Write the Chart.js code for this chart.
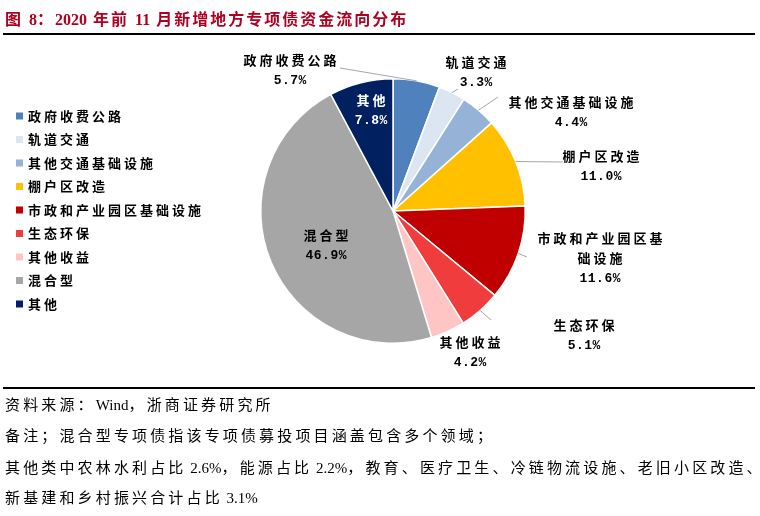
<!DOCTYPE html>
<html>
<head>
<meta charset="utf-8">
<script src="https://cdn.jsdelivr.net/npm/chart.js@4"></script>
<style>
html, body { margin: 0; padding: 0; background: #fff; }
#wrap { position: relative; width: 760px; height: 516px; overflow: hidden; }
#pie { position: absolute; left: 0; top: 0; }
.title { position: absolute; left: 5px; top: 6px; font: bold 16px "Liberation Serif", "Noto Sans CJK SC"; color: #b00020; letter-spacing: 2px; white-space: nowrap; }
.rule { position: absolute; left: 3px; width: 752px; height: 1.5px; background: #000; }
.note { position: absolute; left: 5px; font: 15px "Liberation Serif", "Noto Sans CJK SC"; letter-spacing: 3.15px; white-space: nowrap; color: #000; }
.lat { letter-spacing: 0; }
</style>
</head>
<body>
<div id="wrap">
  <canvas id="pie" width="760" height="516"></canvas>
  <div class="title">图 <span class="lat">8</span>：<span class="lat">2020</span> 年前 <span class="lat">11</span> 月新增地方专项债资金流向分布</div>
  <div class="rule" style="top:33px"></div>
  <div class="rule" style="top:387px"></div>
  <div class="note" style="top:393px">资料来源：<span class="lat">Wind</span>，浙商证券研究所</div>
  <div class="note" style="top:424px">备注；混合型专项债指该专项债募投项目涵盖包含多个领域；</div>
  <div class="note" style="top:456px">其他类中农林水利占比<span class="lat"> 2.6%</span>，能源占比<span class="lat"> 2.2%</span>，教育、医疗卫生、冷链物流设施、老旧小区改造、</div>
  <div class="note" style="top:486px">新基建和乡村振兴合计占比<span class="lat"> 3.1%</span></div>
</div>
<script>
const categories = ['政府收费公路', '轨道交通', '其他交通基础设施', '棚户区改造', '市政和产业园区基础设施', '生态环保', '其他收益', '混合型', '其他'];
const shares = [5.7, 3.3, 4.4, 11.0, 11.6, 5.1, 4.2, 46.9, 7.8];
const sliceColors = ['#4f81bd', '#dce6f2', '#95b3d7', '#ffc000', '#c00000', '#f03c3c', '#ffc4c4', '#a6a6a6', '#002060'];

// where each slice label sits, relative to the pie centre (lead = end of the leader line)
const labelSpots = [
  { lines: ['政府收费公路'], dx: -103, dy: -151, lead: [-53, -143] },
  { lines: ['轨道交通'], dx: 83, dy: -149, lead: [65, -122] },
  { lines: ['其他交通基础设施'], dx: 178, dy: -109, lead: [105, -114] },
  { lines: ['棚户区改造'], dx: 208, dy: -55, lead: [170, -49] },
  { lines: ['市政和产业园区基', '础设施'], dx: 207, dy: 27, lead: [134, 46] },
  { lines: ['生态环保'], dx: 191, dy: 114, lead: [98, 109] },
  { lines: ['其他收益'], dx: 77, dy: 131 },
  { lines: ['混合型'], dx: -67, dy: 24 },
  { lines: ['其他'], dx: -22, dy: -111, color: '#fff' }
];

const cjkFont = 'bold 13px "Noto Sans CJK SC"';
const numFont = 'bold 13px "Liberation Mono", "Noto Sans CJK SC"';

const drawSpaced = (ctx, text, x, y, gap, align) => {
  const chars = [...text];
  const widths = chars.map(c => ctx.measureText(c).width);
  const total = widths.reduce((a, b) => a + b, 0) + gap * (chars.length - 1);
  let cx = align === 'left' ? x : x - total / 2;
  ctx.textAlign = 'left';
  ctx.textBaseline = 'middle';
  chars.forEach((c, i) => { ctx.fillText(c, cx, y); cx += widths[i] + gap; });
};

const pieLabels = {
  id: 'pieLabels',
  afterDatasetsDraw(chart) {
    const ctx = chart.ctx;
    const arcs = chart.getDatasetMeta(0).data;
    ctx.save();
    arcs.forEach((arc, i) => {
      const { x, y, startAngle, endAngle, outerRadius } = arc.getProps(['x', 'y', 'startAngle', 'endAngle', 'outerRadius'], true);
      const spot = labelSpots[i];
      if (spot.lead) {
        const mid = (startAngle + endAngle) / 2;
        ctx.strokeStyle = '#a6a6a6';
        ctx.lineWidth = 1;
        ctx.beginPath();
        ctx.moveTo(x + Math.cos(mid) * outerRadius, y + Math.sin(mid) * outerRadius);
        ctx.lineTo(x + spot.lead[0], y + spot.lead[1]);
        ctx.stroke();
      }
      ctx.fillStyle = spot.color || '#000';
      let ly = y + spot.dy;
      ctx.font = cjkFont;
      spot.lines.forEach(t => { drawSpaced(ctx, t, x + spot.dx, ly, 3); ly += 20.5; });
      ctx.font = numFont;
      drawSpaced(ctx, shares[i].toFixed(1) + '%', x + spot.dx, ly, 0.5);
    });

    // legend on the left
    chart.data.labels.forEach((name, i) => {
      const ly = 116 + i * 23.5;
      ctx.fillStyle = sliceColors[i];
      ctx.fillRect(16, ly - 3.5, 7, 7);
      ctx.fillStyle = '#000';
      ctx.font = cjkFont;
      drawSpaced(ctx, name, 28, ly, 3, 'left');
    });
    ctx.restore();
  }
};

new Chart(document.getElementById('pie'), {
  type: 'pie',
  data: {
    labels: categories,
    datasets: [{
      data: shares,
      backgroundColor: sliceColors,
      borderColor: '#fff',
      borderWidth: 1.5,
      hoverOffset: 0
    }]
  },
  options: {
    responsive: false,
    animation: false,
    events: [],
    layout: { padding: { left: 260, right: 234, top: 78, bottom: 172 } },
    plugins: {
      legend: { display: false },
      tooltip: { enabled: false }
    }
  },
  plugins: [pieLabels]
});
</script>
</body>
</html>
